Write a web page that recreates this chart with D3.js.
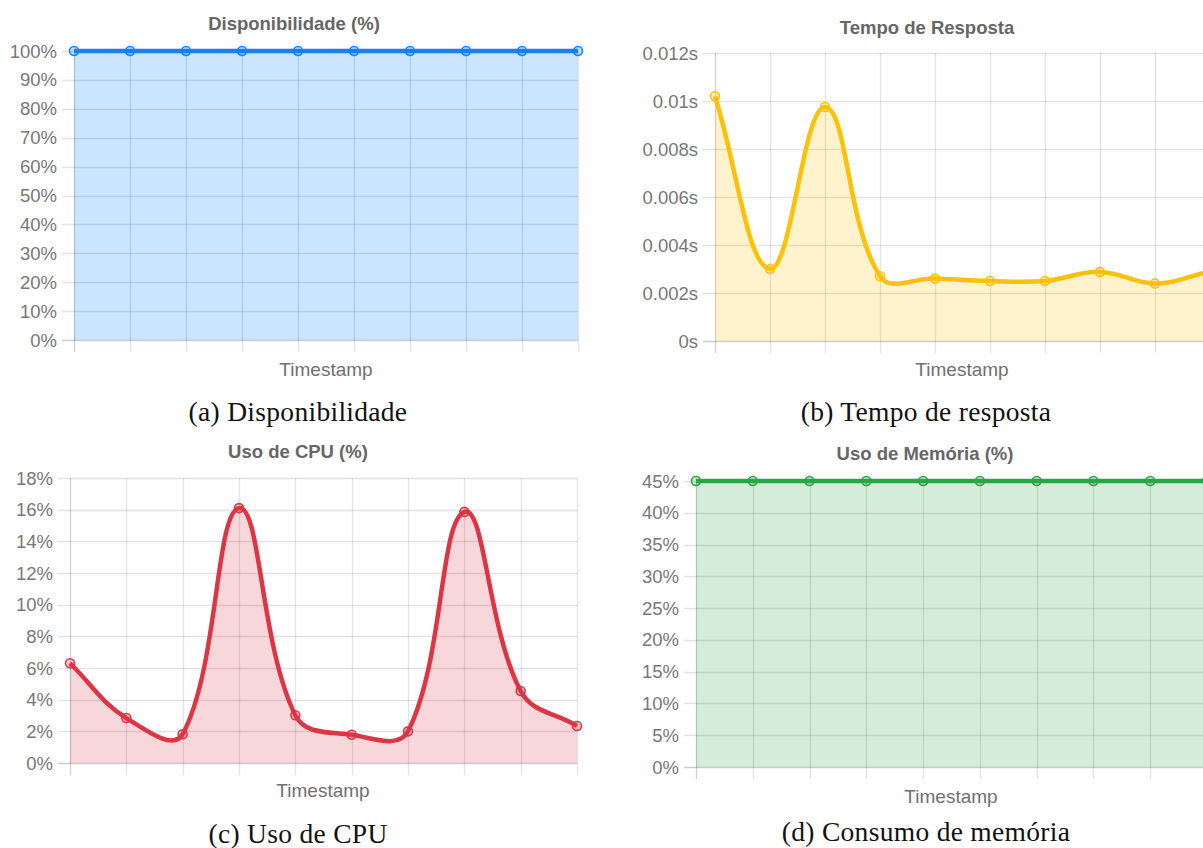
<!DOCTYPE html>
<html>
<head>
<meta charset="utf-8">
<script src="https://cdn.jsdelivr.net/npm/d3@7"></script>
<style>
  html, body { margin: 0; padding: 0; background: #fff; }
  svg { display: block; }
</style>
</head>
<body>
<svg id="fig" width="1203" height="848"></svg>
<script>
// Ten monitoring samples on the x axis (labels hidden)
const timeSlots = [1, 2, 3, 4, 5, 6, 7, 8, 9, 10];

// Series values
const disponibilidade = [100, 100, 100, 100, 100, 100, 100, 100, 100, 100];
const tempoResposta = [0.0102, 0.0030, 0.00975, 0.0027, 0.0026, 0.0025, 0.0025, 0.00288, 0.0024, 0.0029];
const usoCPU = [6.3, 2.84, 1.82, 16.1, 3.02, 1.78, 2.0, 15.86, 4.55, 2.34];
const usoMemoria = [45, 45, 45, 45, 45, 45, 45, 45, 45, 45];

// Y tick values
const ticksDisp = [0, 10, 20, 30, 40, 50, 60, 70, 80, 90, 100];
const ticksTempo = [0, 0.002, 0.004, 0.006, 0.008, 0.01, 0.012];
const ticksCPU = [0, 2, 4, 6, 8, 10, 12, 14, 16, 18];
const ticksMem = [0, 5, 10, 15, 20, 25, 30, 35, 40, 45];

const fmtPct = v => v + "%";
const fmtSec = v => (+v.toPrecision(3)) + "s";

const panels = [
  {
    title: "Disponibilidade (%)", caption: "(a) Disponibilidade",
    values: disponibilidade, ticks: ticksDisp, fmt: fmtPct,
    color: "0,123,255", line: "#1a80f8",
    box: { left: 74, right: 578, top: 51, bottom: 340 },
    titlePos: [294, 30], xTitlePos: [326, 376], captionPos: [298, 421]
  },
  {
    title: "Tempo de Resposta", caption: "(b) Tempo de resposta",
    values: tempoResposta, ticks: ticksTempo, fmt: fmtSec,
    color: "255,193,7", line: "#ffc107",
    box: { left: 715, right: 1210, top: 53, bottom: 341 },
    titlePos: [927, 34], xTitlePos: [962, 376], captionPos: [926, 421]
  },
  {
    title: "Uso de CPU (%)", caption: "(c) Uso de CPU",
    values: usoCPU, ticks: ticksCPU, fmt: fmtPct,
    color: "220,53,69", line: "#dc3545",
    box: { left: 70, right: 577, top: 478, bottom: 763 },
    titlePos: [298, 458], xTitlePos: [323, 797], captionPos: [298, 843]
  },
  {
    title: "Uso de Memória (%)", caption: "(d) Consumo de memória",
    values: usoMemoria, ticks: ticksMem, fmt: fmtPct,
    color: "40,167,69", line: "#28a745",
    box: { left: 696, right: 1207, top: 481, bottom: 767 },
    titlePos: [925, 460], xTitlePos: [951, 803], captionPos: [926, 841]
  }
];

const svg = d3.select("#fig");
svg.append("rect").attr("width", 1203).attr("height", 848).attr("fill", "#fff");

const sans = "'Liberation Sans', Arial, Helvetica, sans-serif";
const serif = "'Liberation Serif', 'DejaVu Serif', serif";

// Spline with tension 0.4, control points weighted by neighbouring segment lengths
function splinePath(pts, box, tension) {
  const cps = pts.map((cur, i) => {
    const prev = pts[i - 1] || cur, next = pts[i + 1] || cur;
    const d01 = Math.hypot(cur[0] - prev[0], cur[1] - prev[1]);
    const d12 = Math.hypot(next[0] - cur[0], next[1] - cur[1]);
    let s01 = d01 / (d01 + d12), s12 = d12 / (d01 + d12);
    if (!isFinite(s01)) s01 = 0;
    if (!isFinite(s12)) s12 = 0;
    const fa = tension * s01, fb = tension * s12;
    const clampX = v => Math.max(box.left, Math.min(box.right, v));
    const clampY = v => Math.max(box.top, Math.min(box.bottom, v));
    return {
      p: [clampX(cur[0] - fa * (next[0] - prev[0])), clampY(cur[1] - fa * (next[1] - prev[1]))],
      n: [clampX(cur[0] + fb * (next[0] - prev[0])), clampY(cur[1] + fb * (next[1] - prev[1]))]
    };
  });
  const path = d3.path();
  path.moveTo(pts[0][0], pts[0][1]);
  for (let i = 1; i < pts.length; i++) {
    const a = cps[i - 1].n, b = cps[i].p;
    path.bezierCurveTo(a[0], a[1], b[0], b[1], pts[i][0], pts[i][1]);
  }
  return path.toString();
}

panels.forEach(cfg => {
  const b = cfg.box;
  const g = svg.append("g");
  const x = d3.scalePoint().domain(timeSlots).range([b.left, b.right]);
  const y = d3.scaleLinear().domain([0, d3.max(cfg.ticks)]).range([b.bottom, b.top]);
  const tickLen = 12;

  // horizontal grid + left tick marks
  g.selectAll("line.hgrid").data(cfg.ticks).join("line")
    .attr("x1", b.left - tickLen).attr("x2", b.right)
    .attr("y1", d => Math.round(y(d)) + 0.5).attr("y2", d => Math.round(y(d)) + 0.5)
    .attr("stroke", d => d === 0 ? "rgba(0,0,0,0.2)" : "rgba(0,0,0,0.11)")
    .attr("stroke-width", d => d === 0 ? 1.5 : 1.3);

  // vertical grid + bottom tick marks
  g.selectAll("line.vgrid").data(timeSlots).join("line")
    .attr("x1", d => Math.round(x(d)) + 0.5).attr("x2", d => Math.round(x(d)) + 0.5)
    .attr("y1", b.top).attr("y2", b.bottom + tickLen)
    .attr("stroke", (d, i) => i === 0 ? "rgba(0,0,0,0.18)" : "rgba(0,0,0,0.11)")
    .attr("stroke-width", 1.3);

  // y tick labels
  g.selectAll("text.ytick").data(cfg.ticks).join("text")
    .attr("x", b.left - 17).attr("y", d => y(d) + 6.5)
    .attr("text-anchor", "end")
    .attr("font-family", sans).attr("font-size", 18.5).attr("fill", "#777")
    .text(cfg.fmt);

  // series
  const pts = cfg.values.map((v, i) => [x(timeSlots[i]), y(v)]);
  const linePath = splinePath(pts, b, 0.4);
  g.append("path")
    .attr("d", linePath + `L${pts[pts.length - 1][0]},${b.bottom}L${pts[0][0]},${b.bottom}Z`)
    .attr("fill", `rgba(${cfg.color},0.2)`);
  g.append("path")
    .attr("d", linePath)
    .attr("fill", "none").attr("stroke", cfg.line)
    .attr("stroke-width", 4.5).attr("stroke-linejoin", "round");
  g.selectAll("circle").data(pts).join("circle")
    .attr("cx", d => d[0]).attr("cy", d => d[1]).attr("r", 4.5)
    .attr("fill", `rgba(${cfg.color},0.25)`)
    .attr("stroke", cfg.line).attr("stroke-width", 1.6);

  // titles
  g.append("text")
    .attr("x", cfg.titlePos[0]).attr("y", cfg.titlePos[1])
    .attr("text-anchor", "middle")
    .attr("font-family", sans).attr("font-size", 18.5).attr("font-weight", "bold").attr("fill", "#666")
    .text(cfg.title);
  g.append("text")
    .attr("x", cfg.xTitlePos[0]).attr("y", cfg.xTitlePos[1])
    .attr("text-anchor", "middle")
    .attr("font-family", sans).attr("font-size", 19).attr("fill", "#707070")
    .text("Timestamp");
  g.append("text")
    .attr("x", cfg.captionPos[0]).attr("y", cfg.captionPos[1])
    .attr("text-anchor", "middle")
    .attr("font-family", serif).attr("font-size", 27.5).attr("letter-spacing", 0.3).attr("fill", "#111")
    .text(cfg.caption);
});
</script>
</body>
</html>
